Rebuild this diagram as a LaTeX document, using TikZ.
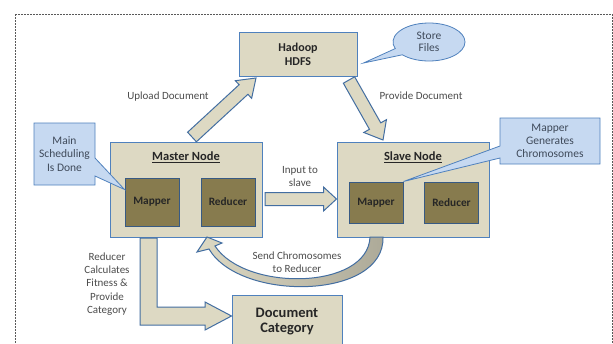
\documentclass[tikz,border=0pt]{standalone}
\usepackage{fontspec}
\setmainfont{Carlito}
\usetikzlibrary{shapes.geometric,shapes.callouts,calc}
\definecolor{tanfill}{HTML}{DDD9C3}
\definecolor{boxblue}{HTML}{4F81BD}
\definecolor{mapolive}{HTML}{877B4E}
\definecolor{callblue}{HTML}{C6D9F1}
\definecolor{calltext}{HTML}{3F4A5A}
\newcommand{\blockarr}[5]{%
  \path ($(#2)!#5!(#1)$) coordinate (bah);
  \filldraw[blockarrow] ($(#1)!#3!90:(#2)$) -- ($(bah)!#3!90:(#2)$) -- ($(bah)!#4!90:(#2)$) -- (#2) -- ($(bah)!#4!-90:(#2)$) -- ($(bah)!#3!-90:(#2)$) -- ($(#1)!#3!-90:(#2)$) -- cycle;}
\begin{document}
\begin{tikzpicture}[x=1pt,y=-1pt,
  box/.style={draw=boxblue, fill=tanfill, line width=1pt, inner sep=0pt, align=center,
    font=\fontsize{12}{14}\selectfont\bfseries, text=black!85},
  innerbox/.style={draw=boxblue!70!black, fill=mapolive, line width=1pt, inner sep=0pt,
    font=\fontsize{11.3}{12}\selectfont\bfseries, text=black!85, minimum width=54pt},
  titletext/.style={font=\fontsize{12.5}{14}\selectfont\bfseries, text=black!85},
  doctext/.style={font=\fontsize{14.5}{15.5}\selectfont\bfseries, text=black!85},
  callbox/.style={rectangle callout, draw=boxblue, fill=callblue, line width=0.8pt, inner sep=0pt,
    align=center, font=\fontsize{11.5}{13.3}\selectfont, text=calltext},
  callell/.style={ellipse callout, draw=boxblue, fill=callblue, line width=0.8pt, inner sep=0pt,
    align=center, font=\fontsize{11.5}{12.5}\selectfont, text=calltext},
  lbl/.style={font=\fontsize{11}{13.3}\selectfont, text=black!70, align=center, inner sep=0pt},
  blockarrow/.style={draw=boxblue!85!black, fill=tanfill, line width=1pt, line join=miter},
  curvearrow/.style={draw=boxblue!85!black, left color=tanfill, right color=tanfill!78!black, line width=1pt}]
\useasboundingbox (0,0) rectangle (613,343);
\fill[white] (0,0) rectangle (613,343);
\draw[black!65, dashed, line width=1pt, dash pattern=on 2pt off 1pt] (15,14) rectangle (612,360);

% main boxes
\node[box, minimum width=118pt, minimum height=44pt] (hdfs) at (298,54) {Hadoop\\HDFS};
\node[box, minimum width=152pt, minimum height=95pt] (master) at (186,189.5) {};
\node[titletext] (mastertitle) at (186,157) {\underline{Master Node}};
\node[innerbox, minimum height=48pt] (m1) at (152,202) {Mapper};
\node[innerbox, minimum height=48pt] (r1) at (228,202) {Reducer};
\node[box, minimum width=152pt, minimum height=95pt] (slave) at (413,189.5) {};
\node[titletext] (slavetitle) at (413,157) {\underline{Slave Node}};
\node[innerbox, minimum height=41pt] (m2) at (376,202.5) {Mapper};
\node[innerbox, minimum height=41pt] (r2) at (451.5,202.5) {Reducer};
\node[box, doctext, minimum width=110pt, minimum height=53pt] (doc) at (287,321.5) {Document\\Category};

% callouts
\node[callell, minimum width=72pt, minimum height=38pt, callout pointer arc=22,
  callout absolute pointer={($(hdfs.east)+(6,9)$)}] (store) at (429,42) {Store\\Files};
\node[callbox, minimum width=61pt, minimum height=62pt, callout pointer width=18pt,
  callout absolute pointer={($(m1.north west)+(0,12)$)}] (sched) at (64.5,154) {Main\\Scheduling\\Is Done};
\node[callbox, minimum width=100pt, minimum height=46pt, callout pointer width=12pt,
  callout absolute pointer={(m2.north east)}] (gen) at (550,141) {Mapper\\Generates\\Chromosomes};

% block arrows
\coordinate (upA) at (192,137);
\coordinate (upB) at (256,78);
\blockarr{upA}{upB}{6.5pt}{12pt}{17pt}
\coordinate (prA) at (349,80);
\coordinate (prB) at (383,140);
\blockarr{prA}{prB}{6.5pt}{13pt}{16pt}
\coordinate (inA) at (265,199);
\coordinate (inB) at (slave.west |- inA);
\blockarr{inA}{inB}{6.5pt}{12pt}{13pt}

% L-shaped arrow to document category
\filldraw[blockarrow] (140,238) -- (157,238) -- (157,307) -- (205,307) -- (205,302)
  -- (doc.west |- 0,316) -- (205,330) -- (205,325) -- (140,325) -- cycle;

% curved arrow from slave to master
\draw[curvearrow] (370,237) -- (383,237) .. controls (385,300) and (240,302) .. (209,249)
  -- (197,252) -- (207,237) -- (222,243) -- (215,246)
  .. controls (245,292) and (368,290) .. (370,237) -- cycle;

% labels
\node[lbl] (uplbl) at (168,97) {Upload Document};
\node[lbl] (prlbl) at (421,96) {Provide Document};
\node[lbl] (inlbl) at (300,176.5) {Input to\\slave};
\node[lbl] (sendlbl) at (297,262) {Send Chromosomes\\to Reducer};
\node[lbl] (redlbl) at (107,284) {Reducer\\Calculates\\Fitness \&\\Provide\\Category};
\end{tikzpicture}
\end{document}
